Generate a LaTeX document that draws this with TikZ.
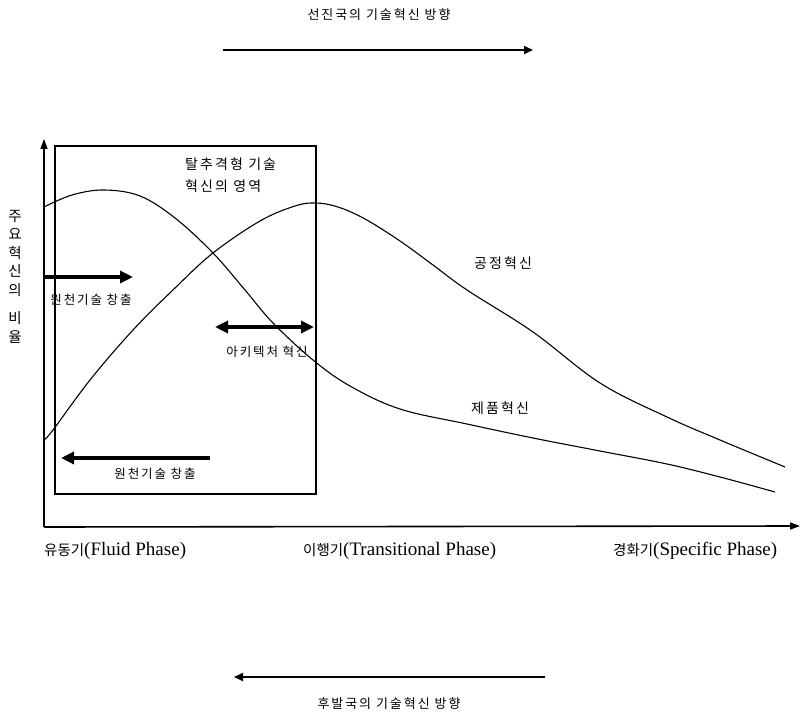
\documentclass[tikz,border=0pt]{standalone}
\usepackage{fontspec}
\setmainfont{Liberation Serif}
\newfontfamily\kr[LetterSpace=15]{Noto Sans CJK KR}
\newfontfamily\krn{Noto Sans CJK KR}
\usetikzlibrary{arrows.meta}
\tikzset{
  curve/.style={line width=1.1pt, black, line join=round},
  thickarrow/.style={line width=3.8pt, -{Triangle[length=13pt,width=12pt]}},
  dblarrow/.style={line width=3.8pt, {Triangle[length=13pt,width=12pt]}-{Triangle[length=13pt,width=12pt]}},
  thinarrow/.style={line width=1.8pt, -{Triangle[length=9pt,width=8pt]}},
  axisline/.style={line width=1.6pt, -{Triangle[length=10pt,width=7pt]}},
  lbl/.style={font=\kr\fontsize{14}{16}\selectfont, inner sep=0pt},
  slbl/.style={font=\kr\fontsize{12.5}{14}\selectfont, inner sep=0pt},
  dirlbl/.style={font=\kr\fontsize{13}{15}\selectfont, inner sep=0pt},
  phase/.style={font=\fontsize{19}{21}\selectfont, inner sep=0pt, anchor=west},
}
\begin{document}
\begin{tikzpicture}[x=1pt,y=-1pt]
\useasboundingbox (0,0) rectangle (800,714);
% top direction
\node[dirlbl] (toplbl) at (379,15) {선진국의 기술혁신 방향};
\coordinate (t1) at (223,50);
\coordinate (t2) at (533,50);
\draw[thinarrow] (t1) -- (t2);
% bottom direction
\coordinate (b1) at (545,677);
\coordinate (b2) at (234,677);
\draw[thinarrow] (b1) -- (b2);
\node[dirlbl] (botlbl) at (389,704) {후발국의 기술혁신 방향};
% axes
\coordinate (O) at (44,527);
\coordinate (ytip) at (44,139);
\coordinate (xtip) at (800,526);
\draw[axisline] (O) -- (ytip);
\draw[axisline] (O) -- (xtip);
% region box
\node[draw, line width=1.3pt, minimum width=261pt, minimum height=348pt, inner sep=0pt, outer sep=0pt, anchor=north west] (region) at (55,146) {};
\node[lbl, anchor=west] (reg1) at (185,164) {탈추격형 기술};
\node[lbl, anchor=west] (reg2) at (185,186) {혁신의 영역};
% y label
\node[font=\krn\fontsize{14.5}{18.5}\selectfont, align=center, inner sep=0pt, anchor=north] (ylabel) at (15,210) {주\\요\\혁\\신\\의\\[10pt]비\\율};
% product innovation curve
\draw[curve] plot[smooth, tension=0.6] coordinates {
 (44,207) (72,195) (104,190) (140,196) (175,218) (213,253) (245,290) (273,323)
 (313,360) (350,386) (400,409) (467,424) (533,438) (600,451) (667,464) (720,477) (775,492)};
% process innovation curve
\draw[curve] plot[smooth, tension=0.6] coordinates {
 (44,440) (53,430) (90,380) (133,330) (175,288) (213,253) (260,221) (295,206) (316,203)
 (338,207) (365,219) (400,241) (433,265) (467,290) (533,332) (600,383) (667,417) (720,440) (785,467)};
\node[lbl] (proc) at (503,263) {공정혁신};
\node[lbl] (prod) at (500,408) {제품혁신};
% arrows inside
\coordinate (a1) at (44,277);
\coordinate (a2) at (133,277);
\draw[thickarrow] (a1) -- (a2);
\node[slbl] (src1) at (91,300) {원천기술 창출};
\coordinate (d1) at (215,327);
\coordinate (d2) at (314,327);
\draw[dblarrow] (d1) -- (d2);
\node[slbl] (arch) at (267,352) {아키텍처 혁신};
\coordinate (c1) at (210,458);
\coordinate (c2) at (61,458);
\draw[thickarrow] (c1) -- (c2);
\node[slbl] (src2) at (155,474) {원천기술 창출};
% phases
\node[phase] (ph1) at (44,551) {{\krn\fontsize{14.5}{16}\selectfont 유동기}(Fluid Phase)};
\node[phase] (ph2) at (303,551) {{\krn\fontsize{14.5}{16}\selectfont 이행기}(Transitional Phase)};
\node[phase] (ph3) at (613,551) {{\krn\fontsize{14.5}{16}\selectfont 경화기}(Specific Phase)};
\end{tikzpicture}
\end{document}
